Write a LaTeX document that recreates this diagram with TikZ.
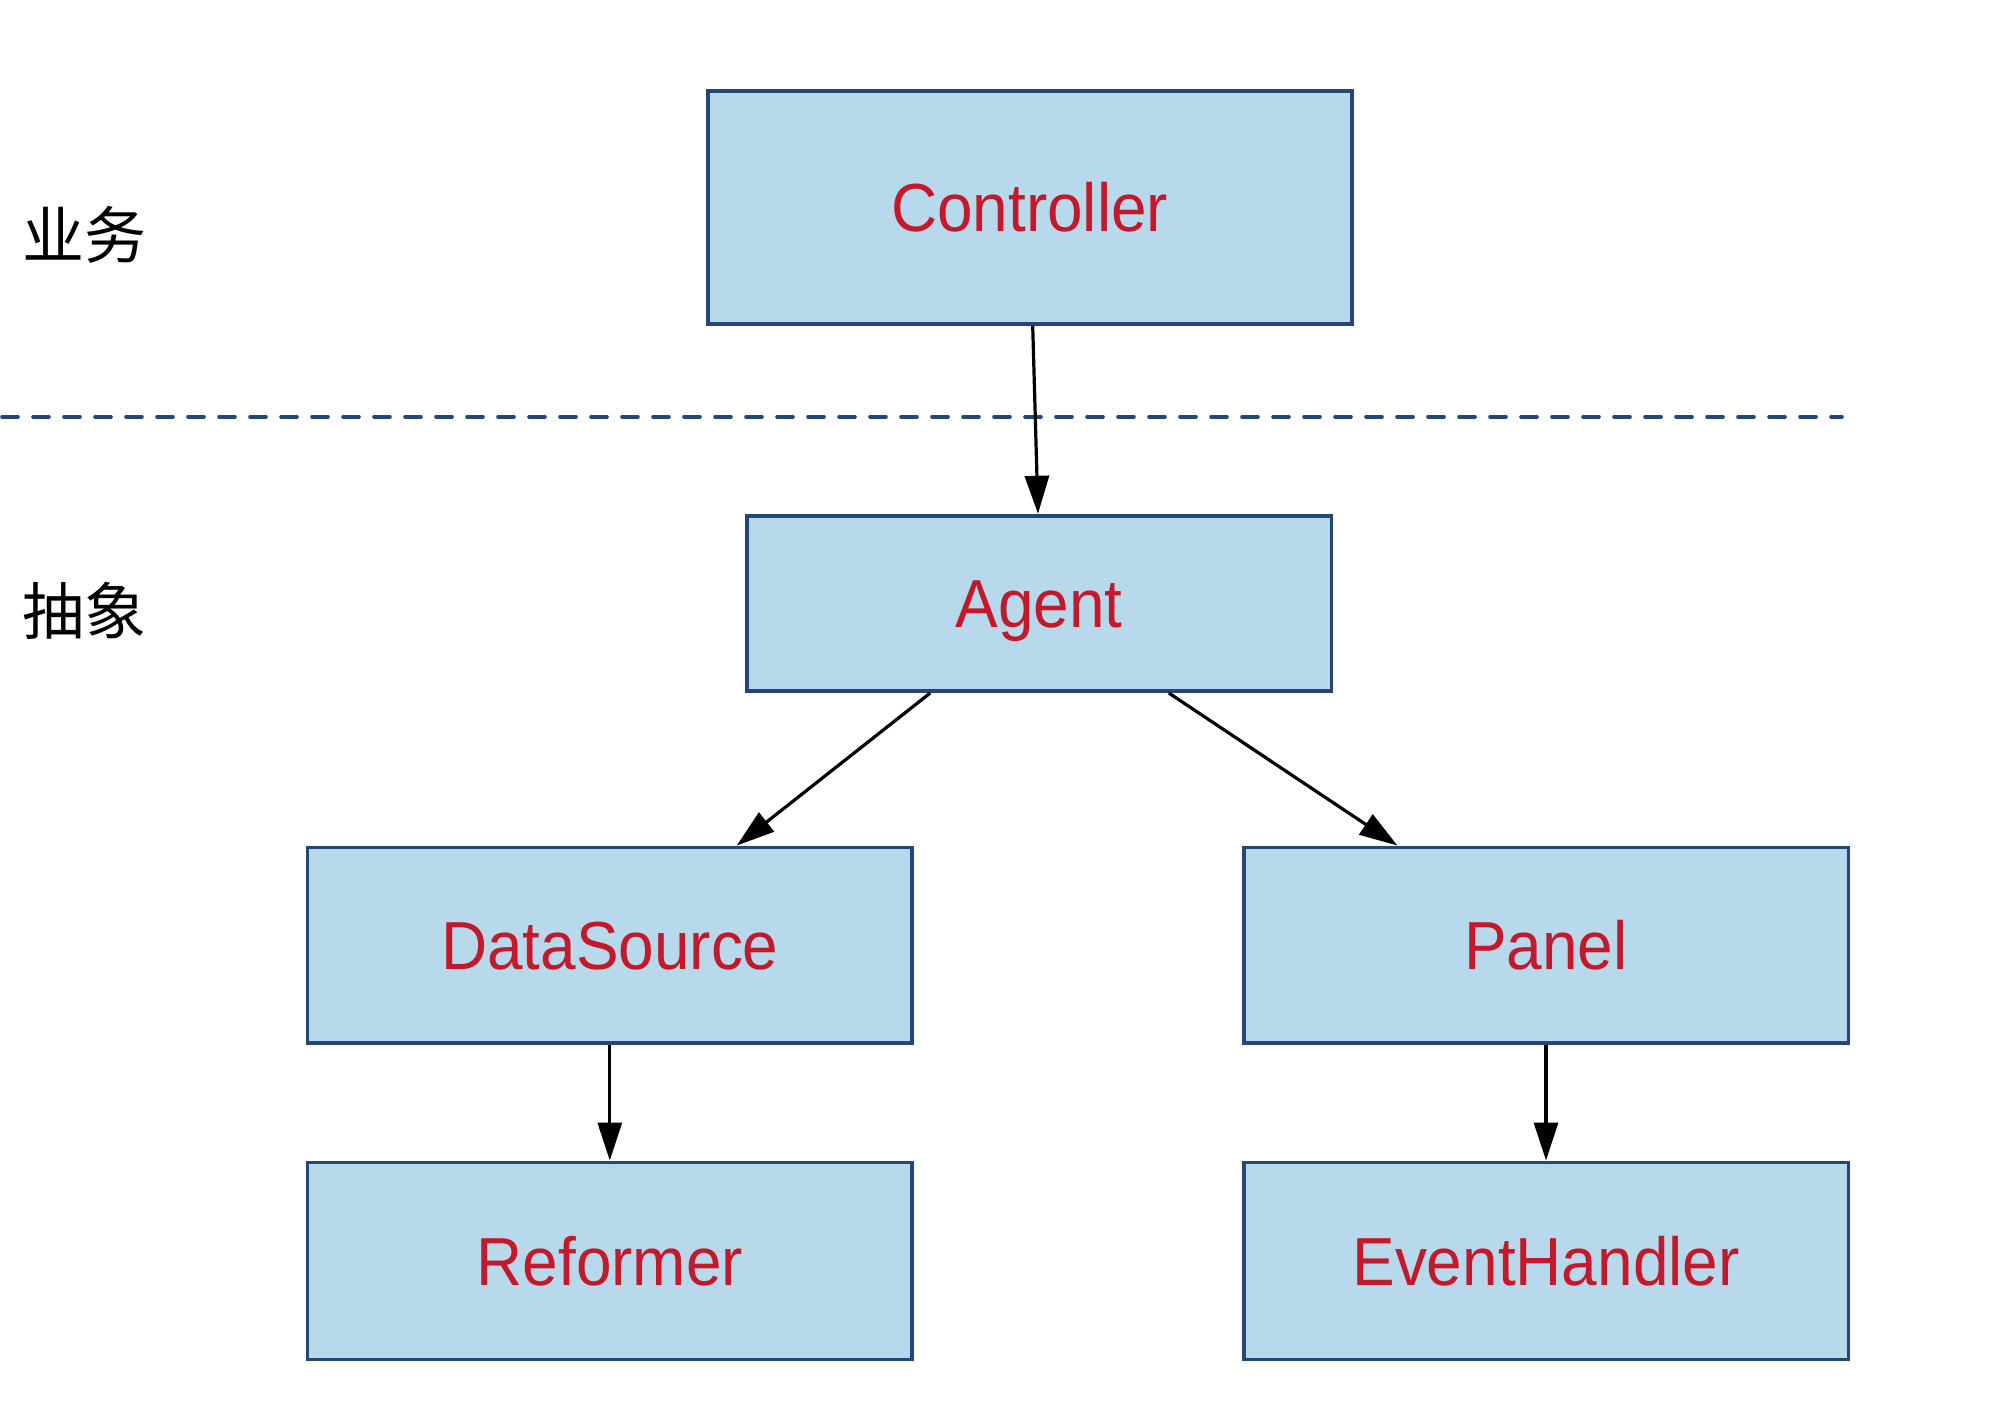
\documentclass[tikz,border=0pt]{standalone}
\usepackage{fontspec}
\usetikzlibrary{arrows.meta}
\newfontfamily\labfont[FakeStretch=0.94]{Liberation Sans}
\newfontfamily\cjk{Noto Sans CJK SC}
\definecolor{boxfill}{HTML}{B7D9EB}
\definecolor{boxline}{HTML}{24477A}
\definecolor{labred}{HTML}{C3192A}
\tikzset{
  cls/.style={draw=boxline, fill=boxfill, line width=1.9pt, rectangle, inner sep=0pt,
    font=\labfont\fontsize{34}{38}\selectfont, text=labred, text height=24.3pt, text depth=0pt},
  conn/.style={line width=1.6pt, -{Triangle[length=19pt,width=12pt]}},
  sep/.style={draw=boxline, line width=1.8pt, line cap=round, dash pattern=on 8pt off 7.5pt},
  layer/.style={font=\cjk\fontsize{31}{33}\selectfont, inner sep=0pt}
}
\begin{document}
\begin{tikzpicture}[x=0.5pt,y=-0.5pt]
\useasboundingbox (0,0) rectangle (1992,1412);
\node[cls, minimum width=322pt, minimum height=116.3pt] (ctrl) at (1029.7,207.7) {Controller};
\node[cls, minimum width=292.2pt, minimum height=87.7pt] (agent) at (1039.2,603.4) {Agent};
\node[cls, minimum width=302.4pt, minimum height=97.8pt] (ds) at (609.8,945.2) {DataSource};
\node[cls, minimum width=302.4pt, minimum height=97.8pt] (panel) at (1546,945.2) {Panel};
\node[cls, minimum width=302.4pt, minimum height=98.5pt] (ref) at (609.8,1260.9) {Reformer};
\node[cls, minimum width=302.4pt, minimum height=98.5pt] (eh) at (1546,1260.9) {EventHandler};
\node[layer] (biz) at (84,235) {业务};
\node[layer] (abs) at (84,611) {抽象};
\coordinate (dl) at (2,416.7);
\coordinate (dr) at (1842,416.7);
\draw[sep] (dl) -- (dr);
\draw[conn] ([xshift=1.5pt]ctrl.south) -- ([xshift=-0.6pt]agent.north);
\draw[conn] ([xshift=-54.5pt]agent.south) -- ([xshift=63.5pt]ds.north);
\draw[conn] ([xshift=64.8pt]agent.south) -- ([xshift=-74.3pt]panel.north);
\draw[conn] (ds.south) -- (ref.north);
\draw[conn] (panel.south) -- (eh.north);
\end{tikzpicture}
\end{document}
